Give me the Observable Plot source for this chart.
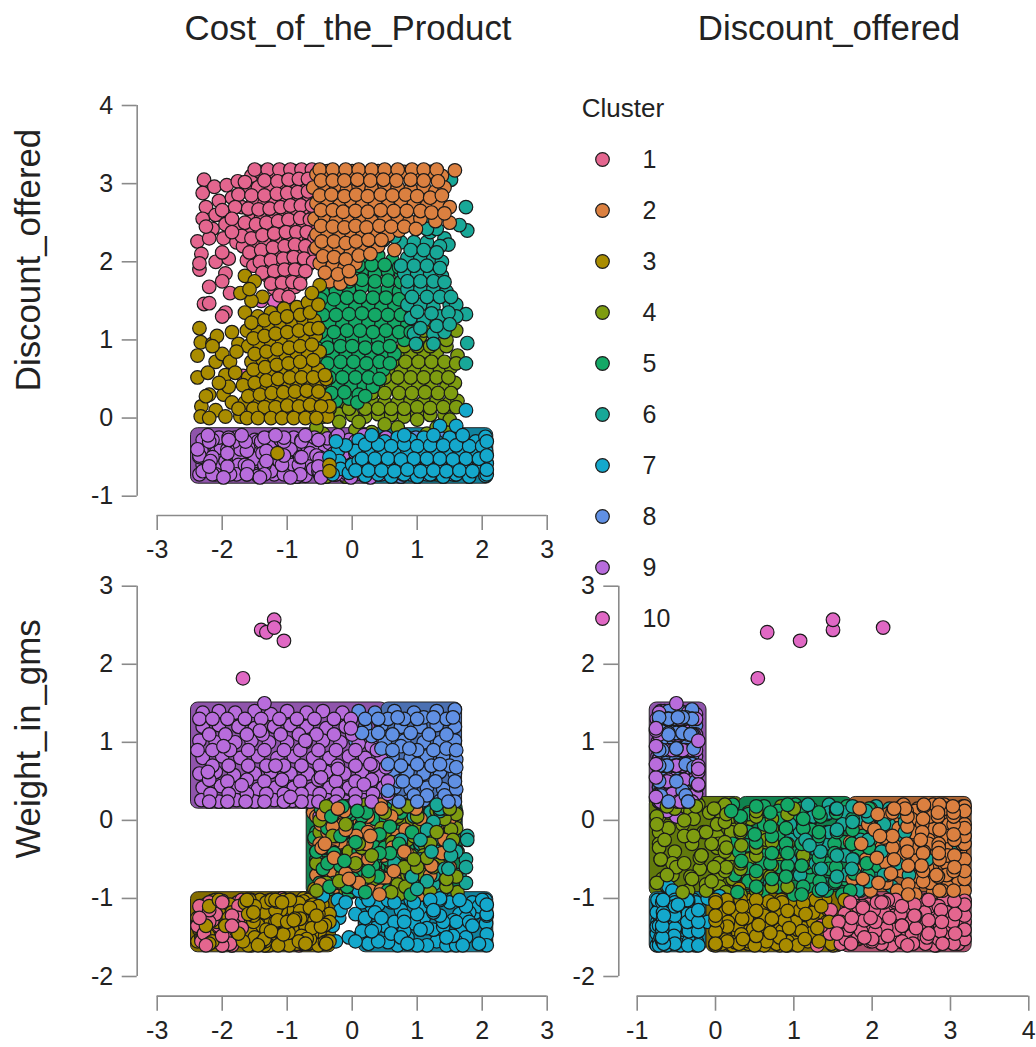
<!DOCTYPE html>
<html><head><meta charset="utf-8">
<script src="https://cdn.jsdelivr.net/npm/d3@7"></script>
<script src="https://cdn.jsdelivr.net/npm/@observablehq/plot@0.6"></script>
<style>
html,body{margin:0;padding:0;background:#fff}
#page{position:relative;width:1036px;height:1047px;overflow:hidden;font-family:"Liberation Sans",Arial,sans-serif;color:#222}
#page svg{position:absolute;overflow:visible;background:transparent}
.t{position:absolute;white-space:nowrap;transform:translate(-50%,-50%)}
.r{transform:translate(-50%,-50%) rotate(-90deg)}
</style></head><body><div id="page"></div>
<script>
const clusters=[1,2,3,4,5,6,7,8,9,10];
const clusterColors=["#E4668F","#DB8040","#A98C00","#7E9C10","#14A866","#18A898","#14A8CC","#6090E4","#B86CDC","#E068C4"];
const costTicks=[-3,-2,-1,0,1,2,3];
const discountTicksX=[-1,0,1,2,3,4];
const discountTicksY=[-1,0,1,2,3,4];
const weightTicks=[-2,-1,0,1,2,3];
// each row: Cost_of_the_Product, Discount_offered, Weight_in_gms (estimated by eye)
const cluster1=[[-2.28,3.05,-1.42],[-2.3,2.88,-1.18],[-2.12,2.96,-1.55],[-1.93,2.98,-1.3],[-1.76,3.03,-1.05],[-1.55,3.1,-1.47],[-1.42,3.15,-1.22],[-1.25,3.1,-1.58],[-1.05,3.14,-1.1],[-.88,3.16,-1.36],[-.72,3.12,-1.5],
[-2.25,2.7,-1.08],[-2.05,2.78,-1.35],[-1.85,2.82,-1.6],[-1.62,2.9,-1.15],[-1.45,2.95,-1.4],[-1.25,2.92,-1.02],[-1.08,2.96,-1.27],[-.92,2.98,-1.55],[-.76,2.95,-1.18],[-.62,3,-1.44],
[-2.3,2.55,-1.5],[-2.1,2.6,-1.2],[-1.9,2.62,-1.44],[-1.7,2.7,-1.02],[-1.52,2.76,-1.3],[-1.35,2.75,-1.55],[-1.18,2.78,-1.12],[-1,2.8,-1.4],[-.82,2.8,-1.6],[-.66,2.82,-1.25],
[-2.15,2.42,-1.28],[-1.95,2.48,-1.58],[-1.75,2.45,-1.1],[-1.55,2.55,-1.38],[-1.4,2.58,-1.05],[-1.22,2.6,-1.48],[-1.05,2.62,-1.2],[-.88,2.63,-1.33],[-.72,2.65,-1.52],[-.58,2.6,-1.08],
[-2.38,2.26,-1.35],[-2.2,2.3,-1.05],[-1.98,2.3,-1.47],[-1.78,2.25,-1.25],[-1.6,2.38,-1.56],[-1.42,2.42,-1.15],[-1.25,2.44,-1.42],[-1.08,2.46,-1],[-.92,2.45,-1.3],[-.75,2.48,-1.58],[-.6,2.42,-1.18],
[-2.32,2.1,-1.55],[-1.68,2.2,-1.1],[-1.5,2.22,-1.36],[-1.33,2.25,-1.6],[-1.15,2.28,-1.22],[-.98,2.3,-1.45],[-.82,2.3,-1.05],[-.66,2.28,-1.33],
[-2.1,2,-1.2],[-1.9,2.04,-1.42],[-1.62,2.02,-1.02],[-1.45,2.06,-1.28],[-1.28,2.1,-1.5],[-1.1,2.12,-1.15],[-.94,2.14,-1.38],[-.78,2.12,-1.58],[-.62,2.12,-1.25],
[-2.35,1.9,-1.1],[-1.95,1.85,-1.5],[-1.52,1.95,-1.4],[-1.35,1.95,-1.08],[-1.18,1.96,-1.32],[-1,1.97,-1.55],[-.85,1.98,-1.18],[-.68,1.96,-1.42],
[-2.2,1.68,-1.3],[-2,1.75,-1.03],[-1.88,1.6,-1.58],[-1.3,1.82,-1.25],[-1.12,1.8,-1.48],[-.95,1.82,-1.1],[-.8,1.8,-1.36],
[-2.28,1.46,-1.45],[-2.2,1.47,-1.15],[-1.95,1.35,-1.35],[-2,1.3,-1.6],[-1.2,1.66,-1.52],[-1.02,1.65,-1.2],[-.88,1.68,-1.4],
[-1.5,3.18,-1.3],[-1.3,3.18,-1.03],[-1.12,3.18,-1.52],[-.95,3.18,-1.22],[-.78,3.18,-1.08],[-.62,3.18,-1.4],
[-1.65,3.02,-1.35],[-1.35,3.04,-1.58],[-1.15,3.03,-1.3],[-.98,3.05,-1.03],[-.82,3.06,-1.45],[-.68,3.06,-1.2],
[-1.75,2.86,-1.25],[-1.55,2.85,-1.52],[-1.35,2.85,-1.1],[-1.16,2.87,-1.42],[-1,2.88,-1.15],[-.84,2.89,-1.3],[-.68,2.9,-1.58],
[-2,2.66,-1.48],[-1.8,2.7,-1.35],[-1.6,2.68,-1.58],[-1.44,2.67,-1.18],[-1.27,2.68,-1.35],[-1.1,2.7,-1.5],[-.95,2.72,-1.02],[-.79,2.72,-1.28],[-.62,2.72,-1.45],
[-1.85,2.55,-1.22],[-1.65,2.5,-1.48],[-1.48,2.48,-1.12],[-1.32,2.5,-1.3],[-1.14,2.52,-1.58],[-.98,2.54,-1.08],[-.8,2.56,-1.38],[-.65,2.54,-1.22],
[-1.7,2.33,-1.38],[-1.55,2.3,-1.02],[-1.38,2.34,-1.48],[-1.2,2.36,-1.2],[-1.02,2.38,-1.35],[-.86,2.38,-1.55],[-.7,2.38,-1.1],[-.58,2.3,-1.4],
[-1.58,2.12,-1.5],[-1.4,2.15,-1.18],[-1.22,2.18,-1.38],[-1.04,2.2,-1.02],[-.88,2.22,-1.25],[-.72,2.2,-1.48],[-.58,2.15,-1.05],
[-1.42,2,-1.55],[-1.25,2.02,-1.15],[-1.06,2.04,-1.42],[-.9,2.06,-1.05],[-.74,2.04,-1.3],[-.6,2,-1.52],
[-1.38,1.86,-1.42],[-1.2,1.88,-1.1],[-1.04,1.9,-1.28],[-.88,1.9,-1.5],[-.72,1.88,-1.12],
[-1.25,1.72,-1.35],[-1.08,1.73,-1.58],[-.92,1.74,-1.25],[-.8,1.72,-1.05],[-1.12,1.57,-1.3],[-.98,1.55,-1.45],
[-2.25,2.45,-1.6],[-2,2.12,-1.05],[-1.85,2.38,-1.35],[-2.35,1.98,-1.25]];
const cluster2=[[-.55,3.12,-.4],[-.38,3.16,.12],[-.2,3.1,-.75],[0,3.16,-.15],[.2,3.13,-.6],[.4,3.16,.18],[.6,3.1,-.9],[.8,3.15,-.3],[1,3.1,.05],[1.2,3.15,-.5],[1.38,3.1,-.8],[1.58,3.17,-.1],
[-.6,2.95,.1],[-.42,2.95,-.55],[-.25,2.98,-.2],[-.08,2.92,.2],[.1,2.96,-.85],[.3,2.94,-.35],[.5,2.98,-.05],[.7,2.95,-.7],[.9,2.93,.15],[1.1,2.96,-.45],[1.28,2.9,-.9],[1.42,2.95,-.2],
[-.55,2.75,-.7],[-.38,2.78,-.1],[-.2,2.72,-.45],[-.02,2.78,-.92],[.15,2.72,.1],[.35,2.76,-.6],[.55,2.72,-.25],[.75,2.78,.2],[.95,2.74,-.8],[1.15,2.72,-.3],[1.32,2.74,.05],[1.5,2.7,-.6],
[-.58,2.55,-.25],[-.42,2.58,.15],[-.25,2.52,-.85],[-.05,2.55,-.4],[.12,2.58,-.02],[.3,2.52,-.72],[.5,2.55,.12],[.7,2.58,-.5],[.88,2.52,-.15],[1.05,2.55,-.95],[1.28,2.52,-.35],[1.5,2.5,.02],
[-.55,2.35,.05],[-.38,2.38,-.65],[-.2,2.32,-.3],[-.02,2.38,.18],[.15,2.32,-.9],[.35,2.38,-.45],[.55,2.34,-.1],[.72,2.4,.2],
[-.55,2.18,-.55],[-.38,2.15,-.15],[-.2,2.18,-.8],[-.02,2.12,-.35],[.15,2.2,.08],[.4,2.2,-.7],[.65,2.15,-.22],
[-.5,1.98,-.9],[-.3,1.95,-.05],[-.12,1.92,-.5],[.05,1.98,.15],[-.35,1.75,-.75],[-.18,1.72,-.28],[-.02,1.78,-.62],
[-.5,3.18,-.9],[-.3,3.18,-.3],[-.1,3.18,.18],[.1,3.18,-.5],[.3,3.18,-.05],[.5,3.18,-.75],[.7,3.18,-.2],[.92,3.18,.12],[1.1,3.18,-.65],[1.3,3.18,-.1],
[-.48,3.04,-.05],[-.3,3.04,-.65],[-.12,3.04,.05],[.08,3.05,-.25],[.28,3.04,-.9],[.48,3.05,-.45],[.68,3.04,.1],[.9,3.05,-.6],[1.1,3.04,-.18],[1.32,3.03,.18],
[-.5,2.85,-.3],[-.32,2.86,.2],[-.12,2.84,-.72],[.06,2.86,-.5],[.24,2.84,.05],[.44,2.86,-.9],[.62,2.85,-.35],[.82,2.86,-.12],[1,2.84,.1],[1.2,2.82,-.7],[1.38,2.85,-.42],
[-.48,2.66,.18],[-.3,2.66,-.4],[-.14,2.64,-.05],[.05,2.65,-.78],[.24,2.64,-.15],[.44,2.66,.2],[.64,2.65,-.65],[.84,2.65,-.42],[1.05,2.65,.02],[1.22,2.63,-.58],[1.42,2.62,-.25],
[-.48,2.46,-.82],[-.3,2.45,-.08],[-.12,2.44,.12],[.05,2.46,-.58],[.22,2.44,-.3],[.42,2.46,-.95],[.6,2.45,.05],[.8,2.45,-.4],[.98,2.42,.15],
[-.47,2.26,-.35],[-.28,2.26,.1],[-.1,2.24,-.68],[.06,2.26,-.2],[.25,2.28,-.5],[.45,2.28,.15],
[-.45,2.07,.08],[-.28,2.06,-.48],[-.1,2.03,-.12],[.1,2.08,-.8],[.28,2.1,-.2],[-.42,1.86,-.3],[-.22,1.84,.15],[-.05,1.88,-.75]];
const cluster3=[[-2.35,1.15,-1.4],[-2.33,.97,-1.1],[-2.38,.8,-1.55],[-2.38,.52,-1.25],[-2.15,.95,-1.03],[-2.1,.72,-1.35],[-2,.82,-1.6],[-1.95,.55,-1.15],[-2.32,.15,-1.5],[-2.33,.02,-1.2],[-2.1,.1,-1.02],[-1.98,.3,-1.42],[-1.85,.2,-1.6],[-1.72,.02,-1.28],[-1.88,.72,-1.08],[-2.22,.58,-1.47],[-1.8,.58,-1.32],[-1.75,.95,-1.5],[-1.85,1.1,-1.18],[-2.08,1.05,-1.3],
[-1.65,1.82,-1.52],[-1.5,1.75,-1.12],[-1.38,1.55,-1.36],[-1.55,1.5,-1.6],[-1.65,1.35,-1.05],[-1.45,1.3,-1.25],[-1.25,1.35,-1.5],[-1.05,1.4,-1.02],[-.85,1.42,-1.3],[-.68,1.48,-1.58],[-.5,1.7,-1.15],[-.62,1.6,-1.45],
[-1.62,1.12,-1.38],[-1.45,1.1,-1.08],[-1.28,1.18,-1.55],[-1.1,1.2,-1.22],[-.92,1.22,-1.45],[-.75,1.25,-1],[-.58,1.25,-1.3],
[-1.6,.92,-1.6],[-1.42,.92,-1.2],[-1.25,.98,-1.42],[-1.08,1,-1.05],[-.9,1,-1.52],[-.72,1.02,-1.28],[-.56,1.05,-1.4],
[-1.55,.72,-1.12],[-1.38,.75,-1.35],[-1.2,.78,-1.58],[-1.02,.8,-1.18],[-.85,.82,-1.4],[-.68,.84,-1.02],[-.5,.85,-1.5],
[-1.6,.52,-1.42],[-1.42,.55,-1.02],[-1.25,.58,-1.3],[-1.08,.6,-1.55],[-.9,.62,-1.15],[-.72,.62,-1.36],[-.52,.62,-1.6],
[-1.55,.35,-1.25],[-1.38,.38,-1.5],[-1.2,.4,-1.1],[-1.02,.42,-1.33],[-.85,.42,-1.58],[-.68,.44,-1.2],[-.5,.42,-1.42],
[-1.65,.2,-1.06],[-1.45,.2,-1.34],[-1.28,.22,-1.6],[-1.1,.24,-1.15],[-.92,.24,-1.4],[-.75,.24,-1.04],[-.58,.26,-1.28],[-.42,.25,-1.56],
[-1.55,.04,-1.48],[-1.35,.06,-1.12],[-1.18,.05,-1.3],[-1,.08,-1.58],[-.82,.06,-1.22],[-.62,.08,-1.46],[-.46,.05,-1.08],[-.38,.02,-1.55],
[-1.15,-.45,-1.1],[-.35,-.6,-1.2],[-.35,-.68,-1.55],[-.35,.15,-1.3],[-.4,.5,-1.58],[-.58,.3,-.88],
[-2.2,.3,-1.1],[-2.15,.92,-1.55],[-1.9,.4,-1.25],[-2.25,.28,-1.35],[-2.05,.45,-1.02],[-1.78,.85,-1.42],[-1.72,1.6,-1.3],[-1.58,1.65,-1.02],
[-1.55,1.22,-1.45],[-1.35,1.25,-1.18],[-1.18,1.28,-1.02],[-1,1.3,-1.38],[-.8,1.32,-1.55],[-.65,1.35,-1.1],[-.52,1.45,-1.3],
[-1.52,1.02,-1.3],[-1.35,1.05,-1.6],[-1.18,1.08,-1.15],[-1,1.1,-1.42],[-.82,1.12,-1.06],[-.65,1.14,-1.52],[-.52,1.15,-1.2],
[-1.5,.82,-1.5],[-1.32,.85,-1.05],[-1.15,.88,-1.28],[-.97,.9,-1.6],[-.8,.92,-1.16],[-.62,.94,-1.38],
[-1.52,.62,-1.22],[-1.34,.65,-1.55],[-1.16,.68,-1.04],[-.98,.7,-1.44],[-.8,.72,-1.26],[-.6,.74,-1.08],
[-1.68,.42,-1.55],[-1.5,.45,-1.1],[-1.32,.48,-1.4],[-1.14,.5,-1.6],[-.96,.52,-1.02],[-.78,.52,-1.48],[-.6,.52,-1.16],[-.42,.55,-1.34],
[-1.6,.28,-1.2],[-1.42,.3,-1.58],[-1.24,.32,-1.02],[-1.06,.33,-1.46],[-.88,.34,-1.26],[-.7,.35,-1.52],[-.52,.34,-1.1],
[-1.75,.12,-1.45],[-1.52,.12,-1.18],[-1.35,.14,-1.52],[-1.18,.14,-1.02],[-1,.16,-1.3],[-.82,.15,-1.55],[-.65,.17,-1.12],[-.48,.15,-1.36],
[-2.2,0,-1.58],[-1.95,.02,-1.35],[-1.62,0,-1.02],[-1.45,0,-1.6],[-1.25,0,-1.42],[-1.08,0,-1.05],[-.9,0,-1.28],[-.72,0,-1.58],[-.55,0,-1.22]];
const cluster4=[[-.45,.02,-.35],[-.2,.05,.1],[0,.04,-.7],[.2,.02,-.2],[.4,.05,.15],[.6,.04,-.55],[.8,.02,-.05],[1,.05,-.85],[1.2,.04,-.3],[1.42,.04,.12],
[-.1,.2,-.55],[.12,.2,-.9],[.3,.22,-.1],[.5,.2,.18],[.7,.2,-.45],[.9,.22,-.75],[1.1,.2,-.15],[1.3,.22,.05],[1.5,.2,-.6],[1.62,.22,-.92],
[.4,.42,-.35],[.6,.4,-.8],[.82,.42,.1],[1.02,.42,-.5],[1.22,.4,-.2],[1.45,.4,-.7],[1.58,.45,.02],
[.55,.62,-.12],[.75,.6,-.62],[.95,.62,.15],[1.15,.6,-.38],[1.35,.62,-.88],[1.52,.65,-.25],
[.7,.82,-.48],[.9,.82,-.02],[1.1,.85,-.72],[1.3,.84,.18],[1.62,.8,-.4],
[.85,1.02,-.25],[1.05,1.05,-.95],[1.35,1.15,-.55],[1.6,1.12,-.1],[1.2,1.25,.05],
[-.5,-.72,-.15],[.1,-.6,.1],[.6,-.7,-.5],[1.1,-.62,-.85],[-.3,-.52,-.4],[.3,-.45,.18],[.85,-.55,-.7],[1.4,-.42,-.05],[-.1,-.35,-.9],[.5,-.3,-.3],[1.2,-.32,.12],[-.45,-.2,-.62],[.05,-.15,-.15],[.7,-.12,-.82],[1.5,-.18,-.45],[-.25,-.72,.05],[.35,-.68,-.75],[.95,-.4,-.2],[-.55,-.55,-.55],[.2,-.22,.2],[1.3,-.72,-.3],[.75,-.28,.02],
[-.35,.12,.15],[-.05,.12,-.4],[.2,.12,-.65],[.4,.12,-.02],[.6,.12,-.28],[.8,.12,.2],[1,.14,-.6],[1.2,.13,-.92],[1.4,.14,-.35],[1.6,.14,.08],
[.3,.32,-.62],[.5,.32,-.15],[.72,.32,-.95],[.92,.32,.02],[1.12,.33,-.32],[1.32,.32,-.55],[1.52,.32,-.12],
[.5,.52,-.9],[.7,.52,.05],[.9,.52,-.45],[1.1,.52,-.7],[1.3,.52,.12],[1.48,.52,-.35],
[.62,.72,-.28],[.82,.72,-.85],[1.02,.72,-.1],[1.22,.72,-.58],[1.42,.72,.02],[1.6,.7,-.72],
[.8,.92,-.6],[1,.92,.08],[1.2,.92,-.3],[1.45,.92,-.85],[1.1,1.12,-.45],[1.45,1,.15],
[-.4,-.75,-.8],[.15,-.72,-.35],[.7,-.52,.15],[1.25,-.5,-.6],[-.15,-.62,-.7],[.45,-.6,-.1],[1,-.75,.05],[1.55,-.65,-.25],[-.5,-.4,0],[.05,-.4,-.55],[.6,-.42,-.92],[1.15,-.2,-.48],[-.3,-.28,-.2],[.25,-.32,-.72],[.85,-.25,.18],[1.45,-.3,-.75],[-.55,-.12,-.9],[.1,-.05,-.3],[.5,-.08,.1],[1,-.02,-.6],[1.5,-.02,.15],[-.2,-.05,-.78],[-.4,-.62,.18],[.95,-.7,-.5],[.3,-.18,-.45],[-.1,-.75,-.05],[1.3,-.12,-.15]];
const cluster5=[[0,2,-.3],[.2,2.05,.1],[.4,2.08,-.6],[.62,2.02,-.1],[.85,1.95,-.8],
[-.05,1.85,.15],[.15,1.88,-.5],[.35,1.85,-.9],[.55,1.88,-.2],[.75,1.85,.05],[.95,1.82,-.45],
[-.45,1.6,-.7],[-.25,1.62,-.05],[-.05,1.65,-.42],[.15,1.68,.18],[.35,1.65,-.75],[.55,1.65,-.28],[.72,1.62,-.95],[.9,1.65,.02],
[-.55,1.42,-.15],[-.35,1.42,.12],[-.15,1.45,-.55],[.05,1.42,-.9],[.25,1.45,-.25],[.45,1.42,.08],[.65,1.45,-.62],[.85,1.42,-.35],
[-.55,1.2,-.5],[-.35,1.22,-.88],[-.15,1.2,-.02],[.05,1.22,-.35],[.25,1.22,.15],[.45,1.2,-.72],[.65,1.22,-.12],[.85,1.2,-.6],
[-.58,1,-.22],[-.4,1,.05],[-.2,1,-.68],[0,1.02,-.4],[.2,1,-.95],[.4,1,-.1],[.6,1.02,.2],[.8,1,-.52],
[-.5,.8,-.8],[-.3,.82,-.3],[-.1,.8,.12],[.1,.82,-.6],[.3,.8,-.18],[.5,.8,-.85],[.65,.82,.02],
[-.45,.6,.15],[-.25,.62,-.45],[-.05,.6,-.92],[.15,.62,-.05],[.35,.6,-.55],[.48,.62,.18],
[-.42,.42,-.62],[-.22,.42,-.15],[-.02,.42,.08],[.18,.42,-.78],[.32,.4,-.32],
[-.4,.22,-.3],[-.25,.22,.2],[-.05,.25,-.7],[.1,.3,-.4],
[.1,1.95,-.7],[.3,1.96,.15],[.5,1.96,-.35],[.72,1.93,-.55],[.92,1.72,-.9],
[-.05,1.75,-.12],[.15,1.77,-.68],[.35,1.75,.02],[.55,1.76,-.5],[.75,1.74,-.3],
[-.48,1.52,-.3],[-.28,1.52,-.8],[-.08,1.54,.1],[.12,1.55,-.15],[.32,1.54,-.6],[.52,1.54,.15],[.72,1.52,-.42],[.92,1.53,-.78],
[-.45,1.32,-.62],[-.25,1.32,-.2],[-.05,1.33,-.78],[.15,1.34,.05],[.35,1.32,-.48],[.55,1.32,-.9],[.75,1.32,.1],[.92,1.32,-.15],
[-.48,1.1,.15],[-.28,1.1,-.42],[-.08,1.12,-.85],[.12,1.12,-.1],[.32,1.1,-.58],[.52,1.12,.02],[.72,1.1,-.3],[.9,1.1,-.95],
[-.55,.9,-.4],[-.38,.9,-.1],[-.18,.92,-.58],[0,.92,.2],[.2,.9,-.3],[.4,.9,-.72],[.58,.92,-.42],
[-.38,.7,-.55],[-.18,.72,-.2],[.02,.72,-.75],[.22,.7,.1],[.42,.72,-.42],[.58,.7,-.08],
[-.35,.52,-.85],[-.15,.52,.18],[.05,.52,-.28],[.25,.52,-.65],[.42,.5,-.18],
[-.32,.32,.05],[-.12,.33,-.52],[.08,.2,.12],[.2,.28,-.92]];
const cluster6=[[1.52,3.05,-.35],[1.05,2.45,-.3],[1.2,2.52,.05],[1.42,2.3,-.65],[1.48,2.22,.15],[.48,2.28,-.05],[.75,2.25,-.85],[.95,2.25,.12],[1.15,2.25,-.55],[1.35,2.2,-.2],
[.85,2.05,-.4],[1.05,2.05,.18],[1.25,2.05,-.75],[1.38,2,-.1],[.8,1.85,.02],[1,1.85,-.6],[1.2,1.85,-.25],[1.38,1.82,-.9],
[.85,1.65,-.45],[1.05,1.65,.1],[1.25,1.65,-.7],[1.45,1.62,-.05],[.85,1.45,.2],[1.05,1.45,-.3],[1.25,1.42,-.82],[1.5,1.45,-.15],
[1.75,2.7,-.5],[1.77,2.4,-.2],[1.65,2.47,-.7],[1.6,1.45,.1],[1.75,1.33,-.6],[1.77,.96,-.25],[1.75,.7,-.8],[1.6,1.3,-.4],
[.9,1.28,-.55],[1.1,1.25,.05],[1.35,1.3,-.25],[.95,1.08,-.15],[1.25,1.08,-.7],[1.42,1.1,.15],[.98,.95,-.5],[1.25,.95,-.05],[1.2,2.38,.1],[1.3,2.42,-.02],
[1.15,2.42,-.15],[.65,2.32,-.55],[.9,2.15,-.7],[1.1,2.15,-.05],[1.3,2.12,-.4],[.75,1.95,-.25],[.95,1.95,.05],[1.15,1.95,-.78],[1.35,1.92,.12],[.85,1.75,.18],[1.05,1.75,-.5],[1.25,1.75,-.02],[1.42,1.74,-.62],[.92,1.55,-.72],[1.15,1.55,-.12],[1.35,1.55,.15],[1.52,1.55,-.45],[1,1.36,-.88],[1.22,1.34,-.4],[1.48,1.35,-.62],[1.05,1.15,-.25],[1.3,1.18,.2],[1.5,1.2,-.32]];
const cluster7=[[.1,-.28,-1.5],[.3,-.25,-1.1],[.5,-.3,-1.35],[.7,-.25,-1.6],[.9,-.28,-1.02],[1.1,-.25,-1.25],[1.3,-.3,-1.55],[1.5,-.25,-1.05],[1.7,-.28,-1.42],[1.9,-.3,-1.18],[2.05,-.24,-1.55],
[.05,-.42,-1.2],[.25,-.45,-1.58],[.45,-.42,-1.02],[.65,-.45,-1.3],[.85,-.42,-1.5],[1.05,-.45,-1.12],[1.25,-.42,-1.4],[1.45,-.45,-1.6],[1.65,-.42,-1.2],[1.85,-.45,-1.05],[2.06,-.42,-1.32],
[.15,-.6,-1.05],[.35,-.62,-1.38],[.55,-.6,-1.56],[.75,-.62,-1.15],[.95,-.6,-1.32],[1.15,-.62,-1.6],[1.35,-.6,-1.02],[1.55,-.62,-1.28],[1.75,-.6,-1.5],[1.95,-.62,-1.1],[2.07,-.58,-1.46],
[.2,-.74,-1.3],[.4,-.72,-1.08],[.6,-.75,-1.45],[.8,-.72,-1.22],[1,-.75,-1.6],[1.2,-.72,-1.05],[1.4,-.75,-1.36],[1.6,-.72,-1.55],[1.8,-.75,-1.18],[2.05,-.74,-1.02],[2.07,-.72,-1.6],
[-.22,-.42,-1.02],[-.2,-.55,-1.25],[-.18,-.65,-1.15],[-.1,-.35,-1.05],[-.25,-.3,-1.55],[-.05,-.7,-1.5],[-.35,-.5,-1.2],[-.3,-.72,-1.35],
[0,-.6,-.85],[.1,-.55,-.9],[-.45,.05,-.97],[1.75,.1,-1.25],[1.35,-.1,-1],[1.6,-.1,-1.3],
[.2,-.34,-1.25],[.4,-.34,-1.55],[.6,-.36,-1.05],[.8,-.34,-1.42],[1,-.36,-1.2],[1.2,-.35,-1.02],[1.4,-.35,-1.3],[1.6,-.35,-1.6],[1.8,-.36,-1.3],[2,-.36,-1.02],
[.15,-.52,-1.42],[.35,-.52,-1.18],[.55,-.52,-1.02],[.75,-.53,-1.5],[.95,-.52,-1.05],[1.15,-.52,-1.38],[1.35,-.52,-1.22],[1.55,-.53,-1.48],[1.75,-.52,-1.1],[1.95,-.52,-1.58],
[.05,-.67,-1.55],[.25,-.67,-1.02],[.45,-.67,-1.25],[.65,-.68,-1.05],[.85,-.66,-1.58],[1.05,-.68,-1.4],[1.25,-.67,-1.18],[1.45,-.68,-1.5],[1.65,-.67,-1.02],[1.85,-.68,-1.35],[2.07,-.66,-1.22],
[2.07,-.3,-1.2],[2.07,-.48,-1.08],[.3,-.22,-1.42],[.8,-.22,-1.3],[1.25,-.22,-1.15],[1.7,-.22,-1.6]];
const cluster8=[[.1,-.3,1.4],[.35,-.55,1.38],[.65,-.7,1.4],[.95,-.4,1.38],[1.3,-.6,1.4],[1.58,-.3,1.42],
[.2,-.65,1.2],[.45,-.35,1.22],[.75,-.5,1.2],[1.05,-.72,1.2],[1.3,-.25,1.22],[1.58,-.48,1.2],
[.05,-.45,1.02],[.5,-.62,1],[.8,-.28,1.02],[1.1,-.55,1],[1.35,-.7,1],[1.58,-.35,1.02],
[.62,-.42,.82],[.9,-.72,.8],[1.15,-.3,.82],[1.4,-.6,.8],[1.6,-.5,.78],
[.62,-.7,.6],[.85,-.35,.62],[1.1,-.5,.6],[1.35,-.25,.62],[1.58,-.65,.6],
[.65,-.28,.42],[.9,-.6,.4],[1.15,-.72,.42],[1.4,-.4,.4],[1.6,-.3,.4],
[.62,-.55,.26],[.85,-.4,.24],[1.1,-.28,.26],[1.35,-.65,.25],[1.58,-.72,.24],
[.3,-.48,1.08],[.55,-.3,1.3],[.8,-.6,1.3],[1.1,-.38,1.32],[1.45,-.5,1.3],[.75,-.75,.95],[1,-.28,.9],[1.25,-.45,.9],[.72,-.52,.5],[1,-.42,.72],[1.28,-.55,.5],[1.5,-.42,.7],[.95,-.7,.32],
[.2,-.3,1.3],[.4,-.72,1.3],[.7,-.42,1.32],[1,-.6,1.3],[1.25,-.48,1.32],[1.55,-.72,1.32],
[.15,-.5,1.12],[.4,-.6,1.12],[.62,-.3,1.1],[.9,-.42,1.12],[1.18,-.6,1.1],[1.45,-.32,1.1],
[.45,-.28,.92],[.62,-.68,.9],[.88,-.5,.92],[1.45,-.5,.92],[1.6,-.72,.9],
[.55,-.3,.72],[.75,-.62,.7],[1.22,-.72,.7],[1.35,-.38,.72],[1.6,-.28,.68],
[.55,-.42,.38],[.78,-.72,.5],[.98,-.25,.5],[1.15,-.38,.32],[1.42,-.7,.32],[1.58,-.5,.5],
[.72,-.35,.24],[1,-.6,.24],[1.48,-.35,.24]];
const cluster9=[[-2.3,-.6,1.38],[-2.05,-.3,1.4],[-1.8,-.7,1.38],[-1.5,-.45,1.4],[-1.25,-.25,1.36],[-1,-.65,1.4],[-.7,-.35,1.38],[-.45,-.55,1.4],[-.15,-.72,1.38],[-1.35,-.5,1.5],
[-2.3,-.35,1.2],[-2.05,-.68,1.22],[-1.75,-.5,1.2],[-1.5,-.28,1.18],[-1.2,-.72,1.2],[-.95,-.42,1.22],[-.7,-.6,1.2],[-.4,-.3,1.18],[-.1,-.5,1.2],
[-2.35,-.72,1.02],[-2.1,-.45,1],[-1.8,-.25,1],[-1.55,-.62,1.02],[-1.28,-.35,1],[-1,-.55,1],[-.72,-.74,1],[-.45,-.4,1.02],[-.18,-.62,1],[.1,-.7,.98],[.3,-.28,.95],
[-2.3,-.28,.8],[-2,-.6,.82],[-1.72,-.4,.8],[-1.45,-.74,.82],[-1.15,-.5,.8],[-.9,-.25,.82],[-.6,-.65,.8],[-.35,-.32,.8],[-.05,-.52,.82],[.2,-.42,.8],[.45,-.72,.78],
[-2.35,-.5,.6],[-2.1,-.72,.62],[-1.82,-.3,.58],[-1.5,-.55,.6],[-1.25,-.68,.62],[-.95,-.4,.6],[-.68,-.26,.6],[-.4,-.7,.62],[-.12,-.45,.6],[.15,-.6,.62],[.4,-.3,.58],
[-2.3,-.68,.42],[-2.02,-.38,.44],[-1.75,-.6,.42],[-1.45,-.3,.4],[-1.18,-.48,.42],[-.9,-.72,.42],[-.62,-.38,.4],[-.35,-.58,.42],[-.05,-.28,.42],[.22,-.7,.4],[.48,-.5,.42],
[-2.32,-.42,.26],[-2.05,-.25,.24],[-1.78,-.72,.26],[-1.5,-.52,.24],[-1.2,-.32,.26],[-.92,-.6,.25],[-.65,-.45,.24],[-.38,-.26,.26],[-.1,-.7,.24],[.18,-.35,.26],[.42,-.6,.26],
[-.5,-.5,.05],[-.3,-.62,.12],
[-2.35,-.48,1.3],[-2.15,-.72,1.3],[-1.92,-.4,1.3],[-1.65,-.6,1.3],[-1.4,-.3,1.3],[-1.12,-.55,1.3],[-.85,-.75,1.3],[-.58,-.25,1.3],[-.28,-.45,1.3],[-.02,-.62,1.3],
[-2.2,-.25,1.1],[-1.95,-.55,1.1],[-1.62,-.72,1.1],[-1.38,-.45,1.1],[-1.1,-.28,1.1],[-.82,-.6,1.1],[-.55,-.48,1.1],[-.28,-.72,1.1],[0,-.35,1.1],
[-2.38,-.4,.9],[-2.15,-.28,.9],[-1.88,-.72,.9],[-1.6,-.38,.9],[-1.35,-.6,.9],[-1.05,-.3,.9],[-.8,-.5,.9],[-.52,-.68,.9],[-.25,-.25,.9],[.05,-.42,.9],[.38,-.55,.9],
[-2.15,-.5,.7],[-1.9,-.25,.7],[-1.6,-.62,.7],[-1.32,-.42,.7],[-1.05,-.72,.7],[-.78,-.28,.7],[-.5,-.52,.7],[-.22,-.68,.7],[.05,-.3,.7],[.32,-.5,.7],[.52,-.25,.68],
[-2.2,-.3,.52],[-1.92,-.62,.5],[-1.62,-.42,.52],[-1.35,-.25,.5],[-1.08,-.6,.52],[-.8,-.72,.5],[-.52,-.28,.52],[-.25,-.5,.5],[.05,-.72,.5],[.3,-.4,.52],[.55,-.62,.5],
[-2.18,-.55,.34],[-1.9,-.28,.34],[-1.62,-.72,.34],[-1.32,-.55,.34],[-1.05,-.25,.34],[-.78,-.5,.34],[-.5,-.7,.34],[-.22,-.4,.34],[.05,-.55,.34],[.32,-.25,.34],[.55,-.4,.34],
[-2.2,-.62,.24],[-1.92,-.45,.24],[-1.64,-.3,.24],[-1.35,-.72,.24],[-1.05,-.48,.24],[-.78,-.3,.24],[-.52,-.62,.24],[-.25,-.72,.24],[.05,-.45,.24],[.3,-.7,.24],
[-2.22,-.22,.62],[-1.98,-.76,.95],[-1.7,-.22,.45],[-1.42,-.76,1.15],[-1.18,-.22,.7],[-.95,-.76,.3],[-.72,-.22,1.02],[-.48,-.76,.55],[-.22,-.22,.66],[-.02,-.76,1.18],[.18,-.22,.46],[.28,-.76,.72]];
const cluster10=[[-1.68,.54,1.82],[-1.4,1.5,2.44],[-1.32,.66,2.41],[-1.2,1.5,2.57],[-1.2,2.14,2.47],[-1.05,1.08,2.3]];
// dense, fully overplotted blocks: [cluster, x1, x2, y1, y2]
const denseCostDiscount=[[9,-2.48,.3,-.84,-.13],[7,.1,2.17,-.84,-.13]];
const denseCostWeight=[[9,-2.48,.55,.15,1.51],[8,.45,1.69,.15,1.51],[5,-.7,1.7,-.97,.25],[3,-2.48,-.25,-1.69,-.92],[7,.1,2.17,-1.69,-.92]];
const denseDiscountWeight=[[9,-.84,-.115,.15,1.51],[4,-.84,.35,-.97,.3],[5,.3,1.75,-.97,.3],[2,1.7,3.27,-.97,.3],[7,-.84,-.115,-1.69,-.92],[3,-.115,1.65,-1.69,-.92],[1,1.6,3.27,-1.69,-.92]];

const lists=[cluster1,cluster2,cluster3,cluster4,cluster5,cluster6,cluster7,cluster8,cluster9,cluster10];
const rows=lists.flatMap((l,k)=>l.map((p,i)=>({cost:p[0],discount:p[1],weight:p[2],cluster:clusters[k],i,share:i/l.length})));
const colorOf=c=>clusterColors[clusters.indexOf(c)];
const colorScale={domain:clusters,range:clusterColors};
const FONT='"Liberation Sans",Arial,sans-serif';
const R=6.8;
const INK="#222",AXIS="#8a8a8a",TICK=25;
const rankA=[10,4,5,6,1,2,8,9,7,3];
const rowsA=d3.sort(rows,d=>rankA.indexOf(d.cluster),d=>d.i);
const rowsB=d3.sort(rows,d=>(d.cluster===1&&d.cost>-1.7)?-1:d.share);
const rowsC=d3.sort(rows,d=>d.share);

function panel({left,top,width,height,marginLeft,marginBottom,xd,xr,yd,yr,xTicks,yTicks,xAxisAt,yAxisAt,xKey,yKey,data,dense,tickPadX=10,tickPadY=9}){
  const p=Plot.plot({width,height,marginLeft,marginBottom,marginTop:0,marginRight:0,
    style:{fontFamily:FONT,fontSize:TICK+"px",background:"transparent",overflow:"visible"},
    x:{domain:xd,range:xr,label:null},y:{domain:yd,range:yr,label:null},color:colorScale,
    marks:[
      Plot.rect(dense,{x1:d=>d[1],x2:d=>d[2],y1:d=>d[3],y2:d=>d[4],fill:{value:d=>d3.color(colorOf(d[0])).darker(.7).formatHex(),scale:null},stroke:"#222",strokeWidth:1,rx:7}),
      Plot.dot(data,{x:xKey,y:yKey,fill:"cluster",r:R,stroke:"#1a1a1a",strokeWidth:1.2}),
      Plot.ruleX([yAxisAt],{y1:yTicks[0],y2:yTicks[yTicks.length-1],stroke:AXIS,strokeWidth:1.6}),
      Plot.ruleY([xAxisAt],{x1:xTicks[0],x2:xTicks[xTicks.length-1],stroke:AXIS,strokeWidth:1.6}),
      Plot.axisX({ticks:xTicks,tickSize:15,tickPadding:tickPadX,stroke:AXIS,strokeWidth:1.6,fill:INK,fontSize:TICK,tickFormat:d=>String(d),label:null}),
      Plot.axisY({ticks:yTicks,tickSize:15,tickPadding:tickPadY,stroke:AXIS,strokeWidth:1.6,fill:INK,fontSize:TICK,tickFormat:d=>String(d),label:null})
    ]});
  p.style.left=left+"px";p.style.top=top+"px";
  document.getElementById("page").appendChild(p);
}
panel({left:0,top:60,width:560,height:510,marginLeft:136.7,marginBottom:55,xd:[-3,3],xr:[156.7,546.7],yd:[-1,4],yr:[435.7,45],xTicks:costTicks,yTicks:discountTicksY,xAxisAt:-1.247,yAxisAt:-3.308,xKey:"cost",yKey:"discount",data:rowsA,dense:denseCostDiscount});
panel({left:0,top:560,width:560,height:487,marginLeft:136.7,marginBottom:51.3,xd:[-3,3],xr:[156.7,546.7],yd:[-2,3],yr:[416,25.7],xTicks:costTicks,yTicks:weightTicks,xAxisAt:-2.252,yAxisAt:-3.308,xKey:"cost",yKey:"weight",data:rowsB,dense:denseCostWeight});
panel({left:560,top:560,width:476,height:487,marginLeft:58.3,marginBottom:51.3,xd:[-1,4],xr:[76.7,468.3],yd:[-2,3],yr:[416,25.7],xTicks:discountTicksX,yTicks:weightTicks,xAxisAt:-2.252,yAxisAt:-1.235,xKey:"discount",yKey:"weight",data:rowsC,dense:denseDiscountWeight});

// legend
const legend=Plot.plot({width:120,height:500,margin:0,axis:null,
  style:{fontFamily:FONT,fontSize:TICK+"px",background:"transparent",overflow:"visible"},
  x:{domain:[0,1],range:[22,62],axis:null},y:{type:"point",domain:clusters,range:[18,478],padding:0,axis:null},color:colorScale,
  marks:[
    Plot.dot(clusters,{x:()=>0,y:d=>d,fill:d=>d,r:R,stroke:"#1a1a1a",strokeWidth:1.2}),
    Plot.text(clusters,{x:()=>1,y:d=>d,text:d=>String(d),textAnchor:"start",fill:INK,fontSize:TICK})
  ]});
legend.style.left="580px";legend.style.top="140px";
document.getElementById("page").appendChild(legend);

const labels=[["Cost_of_the_Product",348,28,34.8,""],["Discount_offered",829,28,34.8,""],["Discount_offered",28,260,34.8,"r"],["Weight_in_gms",28,739,34.8,"r"],["Cluster",623,108,26,""]];
for(const [s,x,y,f,c] of labels){const e=document.createElement("div");e.className="t "+c;e.textContent=s;e.style.left=x+"px";e.style.top=y+"px";e.style.fontSize=f+"px";document.getElementById("page").appendChild(e);}
</script></body></html>
